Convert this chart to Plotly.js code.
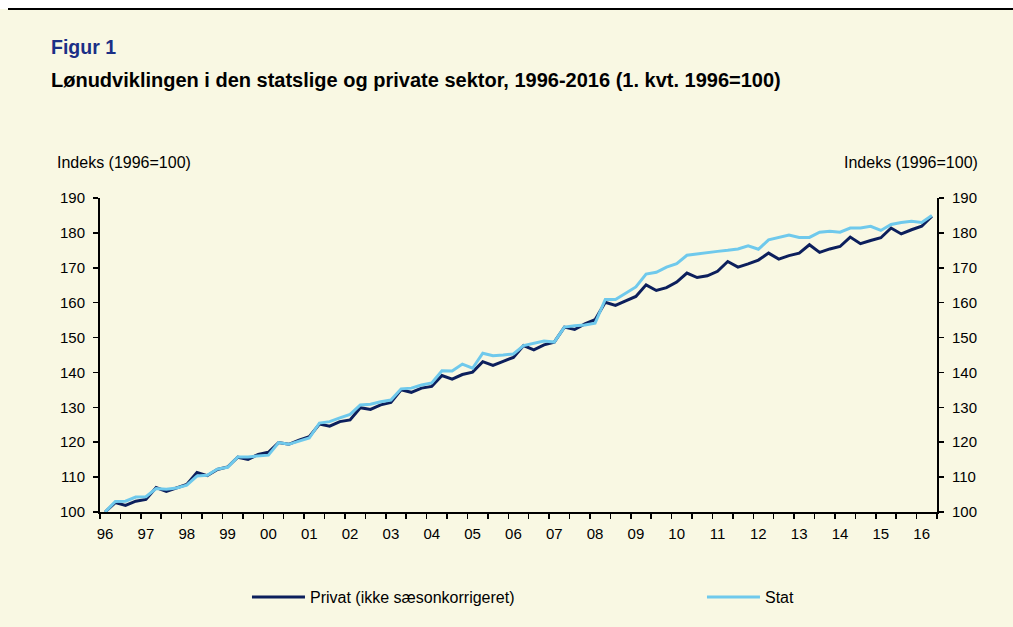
<!DOCTYPE html>
<html>
<head>
<meta charset="utf-8">
<script src="https://cdn.plot.ly/plotly-3.0.1.min.js"></script>
<style>
  html, body { margin:0; padding:0; background:#f9f8e3; }
  #wrap { position:relative; width:1013px; height:627px; overflow:hidden; }
  #chart { position:absolute; left:0; top:0; width:1013px; height:627px; }
  #topband { position:absolute; left:0; top:0; width:1013px; height:9px; background:#ffffff; z-index:5; }
  #topline { position:absolute; left:8px; top:8px; width:1005px; height:2px; background:#000000; z-index:6; }
</style>
</head>
<body>
<div id="wrap">
  <div id="chart"></div>
  <div id="topband"></div>
  <div id="topline"></div>
</div>
<script>
// Quarters 1996K1 .. 2016K2
const quarters = [
  "1996K1","1996K2","1996K3","1996K4","1997K1","1997K2","1997K3","1997K4",
  "1998K1","1998K2","1998K3","1998K4","1999K1","1999K2","1999K3","1999K4",
  "2000K1","2000K2","2000K3","2000K4","2001K1","2001K2","2001K3","2001K4",
  "2002K1","2002K2","2002K3","2002K4","2003K1","2003K2","2003K3","2003K4",
  "2004K1","2004K2","2004K3","2004K4","2005K1","2005K2","2005K3","2005K4",
  "2006K1","2006K2","2006K3","2006K4","2007K1","2007K2","2007K3","2007K4",
  "2008K1","2008K2","2008K3","2008K4","2009K1","2009K2","2009K3","2009K4",
  "2010K1","2010K2","2010K3","2010K4","2011K1","2011K2","2011K3","2011K4",
  "2012K1","2012K2","2012K3","2012K4","2013K1","2013K2","2013K3","2013K4",
  "2014K1","2014K2","2014K3","2014K4","2015K1","2015K2","2015K3","2015K4",
  "2016K1","2016K2"
];

const privat = [
  100.0, 102.7, 101.9, 103.1, 103.6, 107.0, 105.9, 106.9,
  107.9, 111.3, 110.4, 112.2, 112.9, 115.7, 115.1, 116.5,
  117.1, 119.9, 119.4, 120.6, 121.6, 125.2, 124.6, 125.9,
  126.4, 129.9, 129.4, 130.7, 131.4, 135.0, 134.3, 135.5,
  136.0, 139.1, 138.1, 139.4, 140.1, 143.1, 142.0, 143.2,
  144.3, 147.7, 146.5, 147.9, 148.7, 153.0, 152.3, 153.9,
  155.1, 160.1, 159.2, 160.5, 161.8, 165.1, 163.5, 164.3,
  165.9, 168.5, 167.2, 167.7, 169.0, 171.8, 170.2, 171.1,
  172.2, 174.2, 172.5, 173.5, 174.2, 176.6, 174.4, 175.4,
  176.1, 178.8, 176.9, 177.8, 178.6, 181.4, 179.7, 180.9,
  181.9, 184.8
];

const stat = [
  100.0, 103.0, 103.1, 104.3, 104.4, 106.7, 106.5, 106.9,
  107.7, 110.3, 110.5, 112.3, 112.8, 115.8, 115.8, 116.0,
  116.3, 119.9, 119.4, 120.3, 121.2, 125.5, 125.9, 127.0,
  128.0, 130.7, 130.9, 131.6, 132.1, 135.3, 135.5, 136.4,
  137.0, 140.5, 140.4, 142.4, 141.2, 145.5, 144.8, 145.0,
  145.3, 147.7, 148.4, 149.0, 148.7, 153.0, 153.4, 153.6,
  154.1, 160.9, 160.9, 162.8, 164.5, 168.2, 168.7, 170.2,
  171.2, 173.6, 174.0, 174.5, 174.7, 175.0, 175.4, 176.3,
  175.3, 178.0, 178.7, 179.4, 178.7, 178.7, 180.2, 180.5,
  180.2, 181.4, 181.4, 181.9, 180.7, 182.4, 183.0, 183.3,
  183.0, 185.0
];

const yearLabels = ["96","97","98","99","00","01","02","03","04","05",
                    "06","07","08","09","10","11","12","13","14","15","16"];
const yTicks = [100,110,120,130,140,150,160,170,180,190];

const seriesNames = ["Privat (ikke sæsonkorrigeret)", "Stat"];
const titleTop = "Figur 1";
const titleMain = "Lønudviklingen i den statslige og private sektor, 1996-2016 (1. kvt. 1996=100)";
const axisLabel = "Indeks (1996=100)";

const FONT = "Liberation Sans, Arial, Helvetica, sans-serif";
const xIdx = quarters.map((q, i) => i);
const yearTickVals = yearLabels.map((y, k) => quarters.indexOf((k < 4 ? "19" : "20") + y + "K1"));

const traces = [
  { x: xIdx, y: privat, text: quarters, name: seriesNames[0], type: "scatter", mode: "lines",
    line: { color: "#0c1f5c", width: 3 }, yaxis: "y", legend: "legend",
    hovertemplate: "%{text}: %{y}<extra></extra>" },
  { x: xIdx, y: stat, text: quarters, name: seriesNames[1], type: "scatter", mode: "lines",
    line: { color: "#6fc9ec", width: 3 }, yaxis: "y2", legend: "legend2",
    hovertemplate: "%{text}: %{y}<extra></extra>" }
];

const yCommon = {
  range: [100, 190], tickvals: yTicks, ticks: "outside", ticklen: 5, tickwidth: 1.5,
  tickcolor: "#000", showline: true, linecolor: "#000", linewidth: 2, showgrid: false,
  zeroline: false, ticklabelstandoff: 5, tickfont: { family: FONT, size: 15, color: "#000" },
  fixedrange: true
};

const legendCommon = {
  orientation: "h", xanchor: "left", y: -0.2707, yanchor: "middle", itemwidth: 53,
  font: { family: FONT, size: 16, color: "#000" }, bgcolor: "rgba(0,0,0,0)"
};

const layout = {
  width: 1013, height: 627,
  paper_bgcolor: "#f9f8e3", plot_bgcolor: "rgba(0,0,0,0)",
  margin: { l: 100, r: 76, t: 198, b: 115 },
  showlegend: true,
  legend: Object.assign({}, legendCommon, { x: 0.1756 }),
  legend2: Object.assign({}, legendCommon, { x: 0.7192 }),
  xaxis: {
    range: [-0.5, quarters.length - 0.5], tickvals: yearTickVals, ticktext: yearLabels,
    ticks: "outside", ticklen: 5, tickcolor: "rgba(0,0,0,0)", showline: true, linecolor: "#000", linewidth: 2,
    showgrid: false, zeroline: false, ticklabelstandoff: 2,
    tickfont: { family: FONT, size: 15, color: "#000" },
    minor: { tick0: -0.5, dtick: 2, ticks: "outside", ticklen: 5, tickwidth: 1.5, tickcolor: "#000", showgrid: false },
    fixedrange: true
  },
  yaxis: Object.assign({}, yCommon, { side: "left" }),
  yaxis2: Object.assign({}, yCommon, { side: "right", overlaying: "y" }),
  annotations: [
    { text: "<b>" + titleTop + "</b>", xref: "paper", yref: "paper", x: -0.061, y: 1.481,
      xanchor: "left", yanchor: "middle", showarrow: false,
      font: { family: FONT, size: 19.5, color: "#1b2f86" } },
    { text: "<b>" + titleMain + "</b>", xref: "paper", yref: "paper", x: -0.061, y: 1.376,
      xanchor: "left", yanchor: "middle", showarrow: false,
      font: { family: FONT, size: 20, color: "#000" } },
    { text: axisLabel, xref: "paper", yref: "paper", x: -0.0538, y: 1.1115,
      xanchor: "left", yanchor: "middle", showarrow: false,
      font: { family: FONT, size: 16, color: "#000" } },
    { text: axisLabel, xref: "paper", yref: "paper", x: 1.0515, y: 1.1115,
      xanchor: "right", yanchor: "middle", showarrow: false,
      font: { family: FONT, size: 16, color: "#000" } }
  ]
};

Plotly.newPlot("chart", traces, layout, { displayModeBar: false, staticPlot: true });
</script>
</body>
</html>
